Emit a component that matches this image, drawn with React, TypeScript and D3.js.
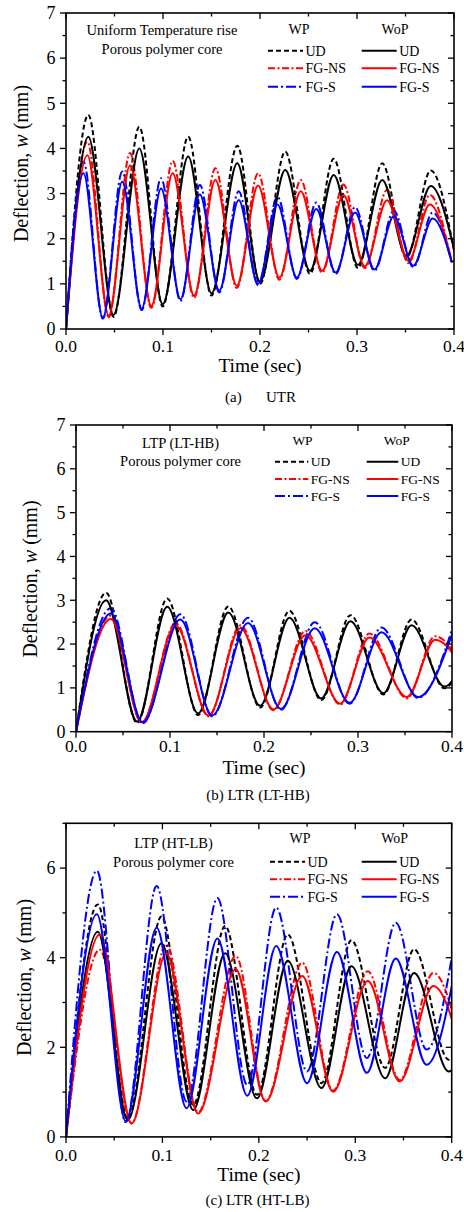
import React from 'react';
import * as d3 from 'd3';

const W = 464;
const H = 1212;
const FONT = '"Liberation Serif", "Times New Roman", serif';

// ---------- Panel (a) UTR : extrema (time in s, deflection in mm) ----------
const utrUdT = [0, 0.023, 0.049, 0.0756, 0.0997, 0.126, 0.15, 0.1766, 0.2, 0.226, 0.2515, 0.276, 0.301, 0.326, 0.351, 0.376, 0.401];
const utrUdWp = [0, 4.74, 0.27, 4.48, 0.5, 4.26, 0.74, 4.06, 1.0, 3.93, 1.22, 3.77, 1.35, 3.67, 1.58, 3.51, 1.62];
const utrUdWop = [0, 4.26, 0.31, 4.0, 0.55, 3.82, 0.79, 3.67, 1.05, 3.52, 1.29, 3.41, 1.42, 3.3, 1.62, 3.17, 1.68];
const utrNsT = [0, 0.022, 0.044, 0.066, 0.088, 0.11, 0.132, 0.154, 0.176, 0.198, 0.22, 0.242, 0.264, 0.286, 0.308, 0.331, 0.353, 0.375, 0.397];
const utrNsWp = [0, 4.15, 0.26, 3.9, 0.47, 3.72, 0.69, 3.56, 0.91, 3.45, 1.09, 3.3, 1.25, 3.2, 1.35, 3.08, 1.46, 2.97, 1.52];
const utrNsWop = [0, 3.85, 0.3, 3.62, 0.51, 3.45, 0.74, 3.3, 0.96, 3.18, 1.14, 3.05, 1.29, 2.97, 1.39, 2.85, 1.51, 2.76, 1.56];
const utrST = [0, 0.018, 0.038, 0.058, 0.078, 0.098, 0.118, 0.138, 0.158, 0.178, 0.198, 0.218, 0.238, 0.258, 0.278, 0.298, 0.318, 0.338, 0.358, 0.378, 0.398];
const utrSWp = [0, 3.71, 0.23, 3.49, 0.42, 3.34, 0.62, 3.19, 0.81, 3.05, 0.97, 2.93, 1.11, 2.8, 1.22, 2.7, 1.29, 2.62, 1.37, 2.58, 1.43];
const utrSWop = [0, 3.45, 0.25, 3.26, 0.45, 3.11, 0.66, 2.98, 0.85, 2.86, 1.0, 2.76, 1.14, 2.66, 1.25, 2.58, 1.32, 2.5, 1.4, 2.45, 1.47];

// ---------- Panel (b) LTR (LT-HB) ----------
const lthbUdT = [0, 0.032, 0.065, 0.097, 0.13, 0.162, 0.196, 0.227, 0.261, 0.292, 0.327, 0.357, 0.392, 0.422];
const lthbUdWp = [0, 3.17, 0.2, 3.04, 0.38, 2.86, 0.55, 2.76, 0.72, 2.66, 0.85, 2.56, 0.99, 2.5];
const lthbUdWop = [0, 3.0, 0.23, 2.85, 0.42, 2.72, 0.59, 2.6, 0.76, 2.52, 0.88, 2.43, 1.03, 2.35];
const lthbNsT = [0, 0.037, 0.07, 0.106, 0.141, 0.175, 0.21, 0.244, 0.281, 0.312, 0.352, 0.382, 0.424];
const lthbNsWp = [0, 2.65, 0.2, 2.48, 0.35, 2.43, 0.49, 2.3, 0.62, 2.24, 0.76, 2.18, 0.86];
const lthbNsWop = [0, 2.57, 0.22, 2.43, 0.37, 2.36, 0.51, 2.2, 0.64, 2.15, 0.79, 2.1, 0.88];
const lthbST = [0, 0.037, 0.071, 0.111, 0.145, 0.183, 0.218, 0.254, 0.291, 0.325, 0.364, 0.4];
const lthbSWp = [0, 2.82, 0.19, 2.68, 0.35, 2.6, 0.5, 2.5, 0.64, 2.38, 0.77, 2.33];
const lthbSWop = [0, 2.7, 0.21, 2.56, 0.37, 2.48, 0.52, 2.36, 0.66, 2.27, 0.79, 2.22];

// ---------- Panel (c) LTR (HT-LB) ----------
const htlbUdT = [0, 0.033, 0.064, 0.099, 0.132, 0.165, 0.198, 0.23, 0.265, 0.296, 0.331, 0.361, 0.397, 0.428];
const htlbUdWp = [0, 5.19, 0.4, 4.92, 0.71, 4.71, 0.94, 4.52, 1.2, 4.39, 1.54, 4.19, 1.72, 4.1];
const htlbUdWop = [0, 4.58, 0.37, 4.32, 0.6, 4.1, 0.86, 3.93, 1.09, 3.81, 1.31, 3.66, 1.46, 3.55];
const htlbNsT = [0, 0.035, 0.068, 0.104, 0.137, 0.176, 0.207, 0.245, 0.277, 0.313, 0.346, 0.381, 0.415];
const htlbNsWp = [0, 4.18, 0.3, 4.3, 0.55, 4.04, 0.8, 3.89, 1.03, 3.7, 1.27, 3.66, 1.5];
const htlbNsWop = [0, 4.52, 0.3, 4.1, 0.52, 3.74, 0.79, 3.59, 1.01, 3.48, 1.24, 3.37, 1.45];
const htlbST = [0, 0.032, 0.062, 0.094, 0.125, 0.157, 0.188, 0.218, 0.25, 0.281, 0.312, 0.342, 0.374, 0.405];
const htlbSWp = [0, 5.94, 0.33, 5.6, 0.79, 5.33, 1.16, 5.12, 1.46, 4.97, 1.76, 4.78, 1.95, 4.65];
const htlbSWop = [0, 4.97, 0.35, 4.67, 0.64, 4.43, 0.92, 4.26, 1.2, 4.13, 1.43, 3.98, 1.61, 3.9];

const xTicks = [0, 0.1, 0.2, 0.3, 0.4];
const legendLabels = ['UD', 'FG-NS', 'FG-S'];
const colors = ['#000000', '#ff0000', '#0000ff'];
const dashes = ['5,3', '7,2.5,2,2.5', '10,3,2,3'];

type Series = { t: number[]; w: number[]; k: number; wp: boolean };

type PanelCfg = {
  id: string;
  left: number; right: number; top: number; bottom: number;
  yMajor: number[]; yMinor: number[];
  series: Series[];
  title: string[]; titleX: number; titleY: number[];
  wpX: number; wopX: number; headY: number; rowY: number[];
  wpLine: [number, number]; wopLine: [number, number];
  legendFont: number;
  tickOff: number; xLabOff: number; yLabX: number; yLabY: number;
};

const range = (a: number, b: number, s: number) => d3.range(a, b + 1e-9, s);

const panels: PanelCfg[] = [
  {
    id: 'a', left: 66, right: 454, top: 13, bottom: 329,
    yMajor: range(0, 7, 1), yMinor: range(0.5, 6.5, 1),
    series: [
      { t: utrUdT, w: utrUdWp, k: 0, wp: true },
      { t: utrNsT, w: utrNsWp, k: 1, wp: true },
      { t: utrST, w: utrSWp, k: 2, wp: true },
      { t: utrUdT, w: utrUdWop, k: 0, wp: false },
      { t: utrNsT, w: utrNsWop, k: 1, wp: false },
      { t: utrST, w: utrSWop, k: 2, wp: false },
    ],
    title: ['Uniform Temperature rise', 'Porous polymer core'], titleX: 162, titleY: [29.5, 49.3],
    wpX: 299, wopX: 395, headY: 29.3, rowY: [50.7, 68.3, 86.7],
    wpLine: [268, 303], wopLine: [361.7, 396.7], legendFont: 14,
    tickOff: 17, xLabOff: 36.5, yLabX: 21, yLabY: 163.5,
  },
  {
    id: 'b', left: 76, right: 452, top: 425, bottom: 731.7,
    yMajor: range(0, 7, 1), yMinor: range(0.5, 6.5, 1),
    series: [
      { t: lthbUdT, w: lthbUdWp, k: 0, wp: true },
      { t: lthbNsT, w: lthbNsWp, k: 1, wp: true },
      { t: lthbST, w: lthbSWp, k: 2, wp: true },
      { t: lthbUdT, w: lthbUdWop, k: 0, wp: false },
      { t: lthbNsT, w: lthbNsWop, k: 1, wp: false },
      { t: lthbST, w: lthbSWop, k: 2, wp: false },
    ],
    title: ['LTP (LT-HB)', 'Porous polymer core'], titleX: 180.5, titleY: [443.3, 461],
    wpX: 302.5, wopX: 396.7, headY: 440, rowY: [461.7, 479, 496],
    wpLine: [275, 308.3], wopLine: [366.7, 398.3], legendFont: 13.5,
    tickOff: 14, xLabOff: 35.5, yLabX: 30, yLabY: 579,
  },
  {
    id: 'c', left: 66, right: 451.7, top: 823.3, bottom: 1136.9,
    yMajor: range(0, 6, 2), yMinor: range(1, 7, 2),
    series: [
      { t: htlbUdT, w: htlbUdWp, k: 0, wp: true },
      { t: htlbNsT, w: htlbNsWp, k: 1, wp: true },
      { t: htlbST, w: htlbSWp, k: 2, wp: true },
      { t: htlbUdT, w: htlbUdWop, k: 0, wp: false },
      { t: htlbNsT, w: htlbNsWop, k: 1, wp: false },
      { t: htlbST, w: htlbSWop, k: 2, wp: false },
    ],
    title: ['LTP (HT-LB)', 'Porous polymer core'], titleX: 173.5, titleY: [842.7, 861.7],
    wpX: 300, wopX: 394.7, headY: 838.3, rowY: [861.7, 879.3, 896.7],
    wpLine: [270, 305], wopLine: [361.7, 396.7], legendFont: 14,
    tickOff: 17.5, xLabOff: 37, yLabX: 24, yLabY: 977.5,
  },
];

function Panel({ cfg }: { cfg: PanelCfg }) {
  const x = d3.scaleLinear().domain([0, 0.4]).range([cfg.left, cfg.right]);
  const y = d3.scaleLinear().domain([0, 7]).range([cfg.bottom, cfg.top]);
  const gen = d3
    .line<[number, number]>()
    .x((d) => x(d[0]))
    .y((d) => y(d[1]))
    .curve(d3.curveMonotoneX);
  const path = (s: Series) => gen(s.t.map((t, i) => [t, s.w[i]] as [number, number])) || '';
  const xMinor = d3.range(0.05, 0.4, 0.1);
  const clipId = `clip-${cfg.id}`;
  const axisW = 1.6;
  return (
    <g fontFamily={FONT} fill="#000">
      <defs>
        <clipPath id={clipId}>
          <rect x={cfg.left} y={cfg.top} width={cfg.right - cfg.left} height={cfg.bottom - cfg.top} />
        </clipPath>
      </defs>
      <g clipPath={`url(#${clipId})`}>
        {cfg.series.map((s, i) => (
          <path
            key={i}
            d={path(s)}
            fill="none"
            stroke={colors[s.k]}
            strokeWidth={2}
            strokeDasharray={s.wp ? dashes[s.k] : undefined}
            strokeLinejoin="round"
          />
        ))}
      </g>
      <rect x={cfg.left} y={cfg.top} width={cfg.right - cfg.left} height={cfg.bottom - cfg.top} fill="none" stroke="#000" strokeWidth={axisW} />
      {xTicks.map((t) => (
        <g key={`xt${t}`}>
          <line x1={x(t)} x2={x(t)} y1={cfg.bottom} y2={cfg.bottom + 6} stroke="#000" strokeWidth={1.3} />
          <line x1={x(t)} x2={x(t)} y1={cfg.top} y2={cfg.top + 6} stroke="#000" strokeWidth={1.3} />
          <text x={x(t)} y={cfg.bottom + cfg.tickOff} dy="0.35em" textAnchor="middle" fontSize={17.5}>
            {d3.format('.1f')(t)}
          </text>
        </g>
      ))}
      {xMinor.map((t) => (
        <g key={`xm${t}`}>
          <line x1={x(t)} x2={x(t)} y1={cfg.bottom} y2={cfg.bottom + 3.5} stroke="#000" strokeWidth={1.3} />
          <line x1={x(t)} x2={x(t)} y1={cfg.top} y2={cfg.top + 3.5} stroke="#000" strokeWidth={1.3} />
        </g>
      ))}
      {cfg.yMajor.map((v) => (
        <g key={`yt${v}`}>
          <line x1={cfg.left - 6} x2={cfg.left} y1={y(v)} y2={y(v)} stroke="#000" strokeWidth={1.3} />
          <line x1={cfg.right - 6} x2={cfg.right} y1={y(v)} y2={y(v)} stroke="#000" strokeWidth={1.3} />
          <text x={cfg.left - 10.5} y={y(v)} dy="0.35em" textAnchor="end" fontSize={18}>
            {v}
          </text>
        </g>
      ))}
      {cfg.yMinor.map((v) => (
        <g key={`ym${v}`}>
          <line x1={cfg.left - 3.5} x2={cfg.left} y1={y(v)} y2={y(v)} stroke="#000" strokeWidth={1.3} />
          <line x1={cfg.right - 3.5} x2={cfg.right} y1={y(v)} y2={y(v)} stroke="#000" strokeWidth={1.3} />
        </g>
      ))}
      <text x={(cfg.left + cfg.right) / 2} y={cfg.bottom + cfg.xLabOff} dy="0.35em" textAnchor="middle" fontSize={19.5}>
        Time (sec)
      </text>
      <text
        transform={`translate(${cfg.yLabX},${cfg.yLabY}) rotate(-90)`}
        dy="0.35em"
        textAnchor="middle"
        fontSize={20}
      >
        Deflection, <tspan fontStyle="italic">w</tspan> (mm)
      </text>
      {cfg.title.map((t, i) => (
        <text key={t} x={cfg.titleX} y={cfg.titleY[i]} dy="0.35em" textAnchor="middle" fontSize={14.5}>
          {t}
        </text>
      ))}
      <text x={cfg.wpX} y={cfg.headY} dy="0.35em" textAnchor="middle" fontSize={cfg.legendFont}>WP</text>
      <text x={cfg.wopX} y={cfg.headY} dy="0.35em" textAnchor="middle" fontSize={cfg.legendFont}>WoP</text>
      {legendLabels.map((lab, k) => (
        <g key={lab}>
          <line x1={cfg.wpLine[0]} x2={cfg.wpLine[1]} y1={cfg.rowY[k]} y2={cfg.rowY[k]} stroke={colors[k]} strokeWidth={2} strokeDasharray={dashes[k]} />
          <text x={cfg.wpLine[1] + 2.5} y={cfg.rowY[k]} dy="0.35em" fontSize={cfg.legendFont}>{lab}</text>
          <line x1={cfg.wopLine[0]} x2={cfg.wopLine[1]} y1={cfg.rowY[k]} y2={cfg.rowY[k]} stroke={colors[k]} strokeWidth={2} />
          <text x={cfg.wopLine[1] + 2.5} y={cfg.rowY[k]} dy="0.35em" fontSize={cfg.legendFont}>{lab}</text>
        </g>
      ))}
    </g>
  );
}

export default function App() {
  return (
    <svg
      width={W}
      height={H}
      viewBox={`0 0 ${W} ${H}`}
      style={{ position: 'absolute', left: 0, top: 0, background: '#fff' }}
    >
      <rect width={W} height={H} fill="#fff" />
      {panels.map((p) => (
        <Panel key={p.id} cfg={p} />
      ))}
      <g fontFamily={FONT} fontSize={15}>
        <text x={225} y={402}>(a)</text>
        <text x={266} y={402}>UTR</text>
        <text x={258} y={800} textAnchor="middle">(b) LTR (LT-HB)</text>
        <text x={257.5} y={1205} textAnchor="middle">(c) LTR (HT-LB)</text>
      </g>
    </svg>
  );
}
